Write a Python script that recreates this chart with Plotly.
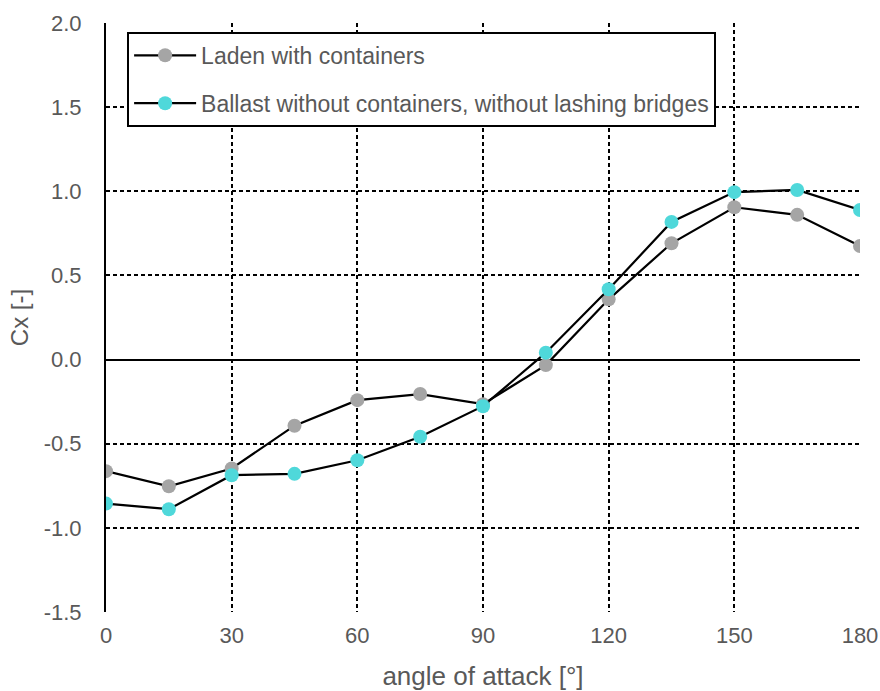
import plotly.graph_objects as go

angles = [0, 15, 30, 45, 60, 75, 90, 105, 120, 135, 150, 165, 180]
laden = [-0.663, -0.753, -0.647, -0.393, -0.241, -0.205, -0.265, -0.033, 0.358, 0.691, 0.905, 0.860, 0.675]
ballast = [-0.856, -0.889, -0.687, -0.679, -0.598, -0.459, -0.277, 0.041, 0.418, 0.818, 0.995, 1.008, 0.889]

names = ["Laden with containers", "Ballast without containers, without lashing bridges"]
colors = ["#A5A5A5", "#4FD8DA"]

x_ticks = [0, 30, 60, 90, 120, 150, 180]
x_ticktext = ["0", "30", "60", "90", "120", "150", "180"]
y_ticks = [-1.5, -1.0, -0.5, 0.0, 0.5, 1.0, 1.5, 2.0]
y_ticktext = ["-1.5", "-1.0", "-0.5", "0.0", "0.5", "1.0", "1.5", "2.0"]

FONT = "Liberation Sans, Arial, sans-serif"
TXT = "#595959"

fig = go.Figure()
for i, (name, vals, col) in enumerate(zip(names, [laden, ballast], colors)):
    fig.add_trace(go.Scatter(
        x=angles, y=vals, name=name, mode="lines+markers",
        line=dict(color="black", width=2.2),
        marker=dict(color=col, size=14),
        legendgroup=f"g{i}",
    ))

fig.update_layout(
    width=880, height=691,
    margin=dict(l=106, r=20, t=23, b=79),
    paper_bgcolor="white", plot_bgcolor="white",
    font=dict(family=FONT, color=TXT, size=22),
    showlegend=True,
    legend=dict(
        x=0.028, y=0.985, xanchor="left", yanchor="top",
        bgcolor="white", bordercolor="black", borderwidth=2,
        font=dict(size=23, color=TXT, family=FONT),
        tracegroupgap=15,
        itemwidth=62,
    ),
    xaxis=dict(
        range=[0, 180], tickvals=x_ticks, ticktext=x_ticktext,
        tickfont=dict(size=22, color=TXT, family=FONT),
        showgrid=True, gridcolor="black", gridwidth=1.5, griddash="4px,3px",
        zeroline=False, showline=False, ticks="",
        ticklabelstandoff=8, automargin=False,
        title=dict(text="angle of attack [°]", font=dict(size=26, color=TXT, family=FONT), standoff=20),
    ),
    yaxis=dict(
        range=[-1.5, 2.0], tickvals=y_ticks, ticktext=y_ticktext,
        tickfont=dict(size=22, color=TXT, family=FONT),
        showgrid=True, gridcolor="black", gridwidth=1.5, griddash="4px,3px",
        zeroline=True, zerolinecolor="black", zerolinewidth=1.5,
        showline=True, linecolor="black", linewidth=2, ticks="",
        ticklabelstandoff=18, automargin=False,
        title=dict(text="Cx [-]", font=dict(size=24, color=TXT, family=FONT), standoff=8),
    ),
)

fig.write_html("out.html", config={"displayModeBar": False},
               post_script="document.body.style.margin='0';")
